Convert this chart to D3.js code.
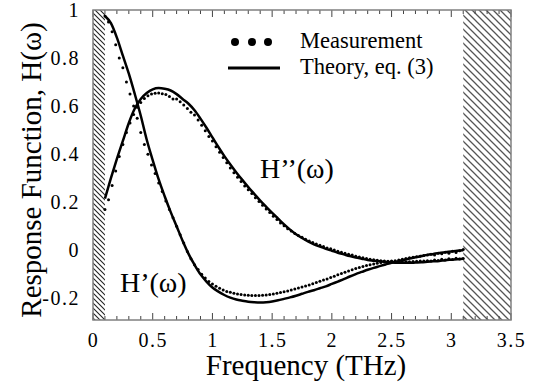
<!DOCTYPE html>
<html>
<head>
<meta charset="utf-8">
<script src="https://cdn.jsdelivr.net/npm/d3@7.9.0/dist/d3.min.js"></script>
<style>
  body { margin: 0; background: #fff; }
  svg { display: block; }
  svg text { font-family: "Liberation Serif", "Times New Roman", Times, serif; }
</style>
</head>
<body>
<svg id="chart" width="538" height="386"></svg>
<script>
// theory curves, eq. (3), sampled every 0.05 THz
const theoryFreq = [
  0.10, 0.15, 0.20, 0.25, 0.30, 0.35, 0.40, 0.45, 0.50, 0.55,
  0.60, 0.65, 0.70, 0.75, 0.80, 0.85, 0.90, 0.95, 1.00, 1.05,
  1.10, 1.15, 1.20, 1.25, 1.30, 1.35, 1.40, 1.45, 1.50, 1.55,
  1.60, 1.65, 1.70, 1.75, 1.80, 1.85, 1.90, 1.95, 2.00, 2.05,
  2.10, 2.15, 2.20, 2.25, 2.30, 2.35, 2.40, 2.45, 2.50, 2.55,
  2.60, 2.65, 2.70, 2.75, 2.80, 2.85, 2.90, 2.95, 3.00, 3.05,
  3.10
];
const theoryReal = [
  0.975, 0.945, 0.885, 0.81, 0.735, 0.65, 0.56, 0.46, 0.375, 0.295,
  0.225, 0.16, 0.10, 0.04, -0.015, -0.06, -0.10, -0.13, -0.155, -0.172,
  -0.186, -0.197, -0.205, -0.21, -0.214, -0.216, -0.217, -0.216, -0.213, -0.208,
  -0.202, -0.196, -0.189, -0.181, -0.173, -0.166, -0.158, -0.15, -0.14, -0.13,
  -0.12, -0.109, -0.099, -0.09, -0.081, -0.073, -0.066, -0.059, -0.052, -0.046,
  -0.04, -0.034, -0.029, -0.024, -0.019, -0.015, -0.011, -0.008, -0.005, -0.002,
  0.0
];
const theoryImag = [
  0.215, 0.30, 0.38, 0.455, 0.53, 0.59, 0.63, 0.655, 0.67, 0.675,
  0.672, 0.665, 0.65, 0.63, 0.61, 0.583, 0.548, 0.51, 0.47, 0.43,
  0.392, 0.357, 0.324, 0.293, 0.263, 0.235, 0.207, 0.181, 0.156, 0.132,
  0.108, 0.086, 0.067, 0.051, 0.037, 0.025, 0.015, 0.006, -0.002, -0.01,
  -0.017, -0.024, -0.03, -0.035, -0.04, -0.043, -0.046, -0.049, -0.051, -0.052,
  -0.052, -0.052, -0.051, -0.05, -0.048, -0.046, -0.044, -0.041, -0.039, -0.037,
  -0.035
];

// measurement, every 0.03 THz
const measFreq = [
  0.10, 0.13, 0.16, 0.19, 0.22, 0.25, 0.28, 0.31, 0.34, 0.37,
  0.40, 0.43, 0.46, 0.49, 0.52, 0.55, 0.58, 0.61, 0.64, 0.67,
  0.70, 0.73, 0.76, 0.79, 0.82, 0.85, 0.88, 0.91, 0.94, 0.97,
  1.00, 1.03, 1.06, 1.09, 1.12, 1.15, 1.18, 1.21, 1.24, 1.27,
  1.30, 1.33, 1.36, 1.39, 1.42, 1.45, 1.48, 1.51, 1.54, 1.57,
  1.60, 1.63, 1.66, 1.69, 1.72, 1.75, 1.78, 1.81, 1.84, 1.87,
  1.90, 1.93, 1.96, 1.99, 2.02, 2.05, 2.08, 2.11, 2.14, 2.17,
  2.20, 2.23, 2.26, 2.29, 2.32, 2.35, 2.38, 2.41, 2.44, 2.47,
  2.50, 2.53, 2.56, 2.59, 2.62, 2.65, 2.68, 2.71, 2.74, 2.77,
  2.80, 2.83, 2.86, 2.89, 2.92, 2.95, 2.98, 3.01, 3.04, 3.07,
  3.10
];
const measReal = [
  0.975, 0.95, 0.91, 0.855, 0.80, 0.76, 0.70, 0.65, 0.60, 0.55,
  0.49, 0.44, 0.40, 0.355, 0.32, 0.28, 0.245, 0.205, 0.17, 0.135,
  0.10, 0.065, 0.03, -0.005, -0.035, -0.06, -0.08, -0.10, -0.115, -0.13,
  -0.14, -0.15, -0.158, -0.165, -0.171, -0.175, -0.179, -0.182, -0.184, -0.186,
  -0.187, -0.188, -0.188, -0.188, -0.187, -0.186, -0.184, -0.182, -0.179, -0.176,
  -0.172, -0.169, -0.165, -0.161, -0.157, -0.153, -0.148, -0.144, -0.139, -0.134,
  -0.129, -0.124, -0.119, -0.113, -0.108, -0.102, -0.097, -0.091, -0.086, -0.081,
  -0.076, -0.072, -0.067, -0.063, -0.06, -0.057, -0.054, -0.051, -0.049, -0.047,
  -0.045, -0.043, -0.04, -0.037, -0.034, -0.031, -0.029, -0.027, -0.025, -0.022,
  -0.02, -0.016, -0.019, -0.012, -0.014, -0.008, -0.012, -0.004, -0.009, -0.002,
  0.003
];
const measImag = [
  0.17, 0.21, 0.27, 0.33, 0.39, 0.44, 0.49, 0.53, 0.565, 0.595,
  0.615, 0.632, 0.643, 0.65, 0.654, 0.655, 0.652, 0.648, 0.64, 0.63,
  0.63, 0.618, 0.605, 0.59, 0.574, 0.563, 0.542, 0.52, 0.498, 0.474,
  0.455, 0.431, 0.408, 0.386, 0.364, 0.343, 0.323, 0.304, 0.286, 0.268,
  0.252, 0.236, 0.219, 0.203, 0.187, 0.172, 0.157, 0.142, 0.128, 0.114,
  0.102, 0.09, 0.08, 0.07, 0.062, 0.054, 0.046, 0.039, 0.032, 0.026,
  0.021, 0.016, 0.01, 0.006, 0.001, -0.004, -0.008, -0.012, -0.016, -0.02,
  -0.025, -0.028, -0.031, -0.034, -0.037, -0.039, -0.041, -0.043, -0.045, -0.046,
  -0.047, -0.048, -0.048, -0.049, -0.048, -0.048, -0.047, -0.046, -0.045, -0.044,
  -0.043, -0.045, -0.04, -0.042, -0.037, -0.04, -0.035, -0.038, -0.033, -0.036,
  -0.034
];

// axes and annotations
const xTickValues = [0, 0.5, 1, 1.5, 2, 2.5, 3, 3.5];
const xTickLabels = ['0', '0.5', '1', '1.5', '2', '2.5', '3', '3.5'];
const yTickValues = [-0.2, 0, 0.2, 0.4, 0.6, 0.8, 1];
const yTickLabels = ['-0.2', '0', '0.2', '0.4', '0.6', '0.8', '1'];
const blockedBands = [[0, 0.1], [3.1, 3.5]];
const legendLabels = ['Measurement', 'Theory, eq. (3)'];
const curveLabels = ['H\u2019(\u03c9)', 'H\u2019\u2019(\u03c9)'];

const svg = d3.select('#chart');
const plotLeft = 93, plotRight = 511, plotTop = 10, plotBottom = 320;

const x = d3.scaleLinear().domain([0, 3.5]).range([plotLeft, plotRight]);
const y = d3.scaleLinear().domain([-0.29, 1.0]).range([plotBottom, plotTop]);

// hatch patterns for the excluded bands
const defs = svg.append('defs');
[['hatchL', 5, '#222', 1.1], ['hatchR', 7, '#555', 1.3]].forEach(([id, s, col, w]) => {
  defs.append('pattern')
    .attr('id', id)
    .attr('patternUnits', 'userSpaceOnUse')
    .attr('width', s).attr('height', s)
    .append('path')
    .attr('d', `M0,0L${s},${s}M${-s / 2},${s / 2}L${s / 2},${s * 1.5}M${s / 2},${-s / 2}L${s * 1.5},${s / 2}`)
    .attr('stroke', col)
    .attr('stroke-width', w);
});

blockedBands.forEach((b, i) => {
  svg.append('rect')
    .attr('x', x(b[0]))
    .attr('y', plotTop)
    .attr('width', x(b[1]) - x(b[0]))
    .attr('height', plotBottom - plotTop)
    .attr('fill', i === 0 ? 'url(#hatchL)' : 'url(#hatchR)');
});

// minor ticks every 0.1 THz on bottom and top
const minorX = d3.range(0, 36).map(d => d / 10);
const tickG = svg.append('g').attr('stroke', '#444').attr('stroke-width', 1);
minorX.forEach(v => {
  const major = Math.abs(v * 2 - Math.round(v * 2)) < 1e-6;
  const len = major ? 7 : 4;
  tickG.append('line')
    .attr('x1', x(v)).attr('x2', x(v))
    .attr('y1', plotBottom).attr('y2', plotBottom - len);
  tickG.append('line')
    .attr('x1', x(v)).attr('x2', x(v))
    .attr('y1', plotTop).attr('y2', plotTop + len);
});

// frame
svg.append('rect')
  .attr('x', plotLeft).attr('y', plotTop)
  .attr('width', plotRight - plotLeft).attr('height', plotBottom - plotTop)
  .attr('fill', 'none')
  .attr('stroke', '#808080')
  .attr('stroke-width', 1.5);

// tick labels via axes
const xAxis = d3.axisBottom(x)
  .tickValues(xTickValues)
  .tickFormat((d, i) => xTickLabels[i])
  .tickSize(0)
  .tickPadding(13);
const gx = svg.append('g').attr('transform', `translate(0,${plotBottom})`).call(xAxis);

const yAxis = d3.axisLeft(y)
  .tickValues(yTickValues)
  .tickFormat((d, i) => yTickLabels[i])
  .tickSize(0)
  .tickPadding(13);
const gy = svg.append('g').attr('transform', `translate(${plotLeft},0)`).call(yAxis);

[gx, gy].forEach(g => {
  g.attr('font-family', null);
  g.select('.domain').remove();
  g.selectAll('text')
    .attr('font-size', 20)
    .attr('letter-spacing', 1.5)
    .attr('fill', '#000');
});

// axis titles
svg.append('text')
  .attr('x', x(1.75) + 4)
  .attr('y', 375)
  .attr('text-anchor', 'middle')
  .attr('font-size', 29)
  .text('Frequency (THz)');

svg.append('text')
  .attr('transform', `translate(41,${(plotTop + plotBottom) / 2 + 5}) rotate(-90)`)
  .attr('text-anchor', 'middle')
  .attr('font-size', 29)
  .text('Response Function, H(\u03c9)');

// theory lines
const line = d3.line()
  .x(d => x(d[0]))
  .y(d => y(d[1]))
  .curve(d3.curveMonotoneX);

[theoryReal, theoryImag].forEach(vals => {
  svg.append('path')
    .datum(theoryFreq.map((f, i) => [f, vals[i]]))
    .attr('d', line)
    .attr('fill', 'none')
    .attr('stroke', '#000')
    .attr('stroke-width', 2.5)
    .attr('stroke-linejoin', 'round');
});

// measurement dots
[measReal, measImag].forEach(vals => {
  svg.append('g')
    .selectAll('circle')
    .data(measFreq.map((f, i) => [f, vals[i]]))
    .join('circle')
    .attr('cx', d => x(d[0]))
    .attr('cy', d => y(d[1]))
    .attr('r', 1.5)
    .attr('fill', '#000');
});

// curve labels
svg.append('text')
  .attr('x', 120).attr('y', 292)
  .attr('font-size', 28)
  .text(curveLabels[0]);
svg.append('text')
  .attr('x', 260).attr('y', 178)
  .attr('font-size', 28)
  .text(curveLabels[1]);

// legend
const legend = svg.append('g');
[235, 252, 268].forEach(cx => {
  legend.append('circle').attr('cx', cx).attr('cy', 42).attr('r', 4).attr('fill', '#000');
});
legend.append('line')
  .attr('x1', 228).attr('x2', 280)
  .attr('y1', 68).attr('y2', 68)
  .attr('stroke', '#000')
  .attr('stroke-width', 3);
legendLabels.forEach((t, i) => {
  legend.append('text')
    .attr('x', 300)
    .attr('y', 48 + i * 26)
    .attr('font-size', 22.5)
    .text(t);
});
</script>
</body>
</html>
